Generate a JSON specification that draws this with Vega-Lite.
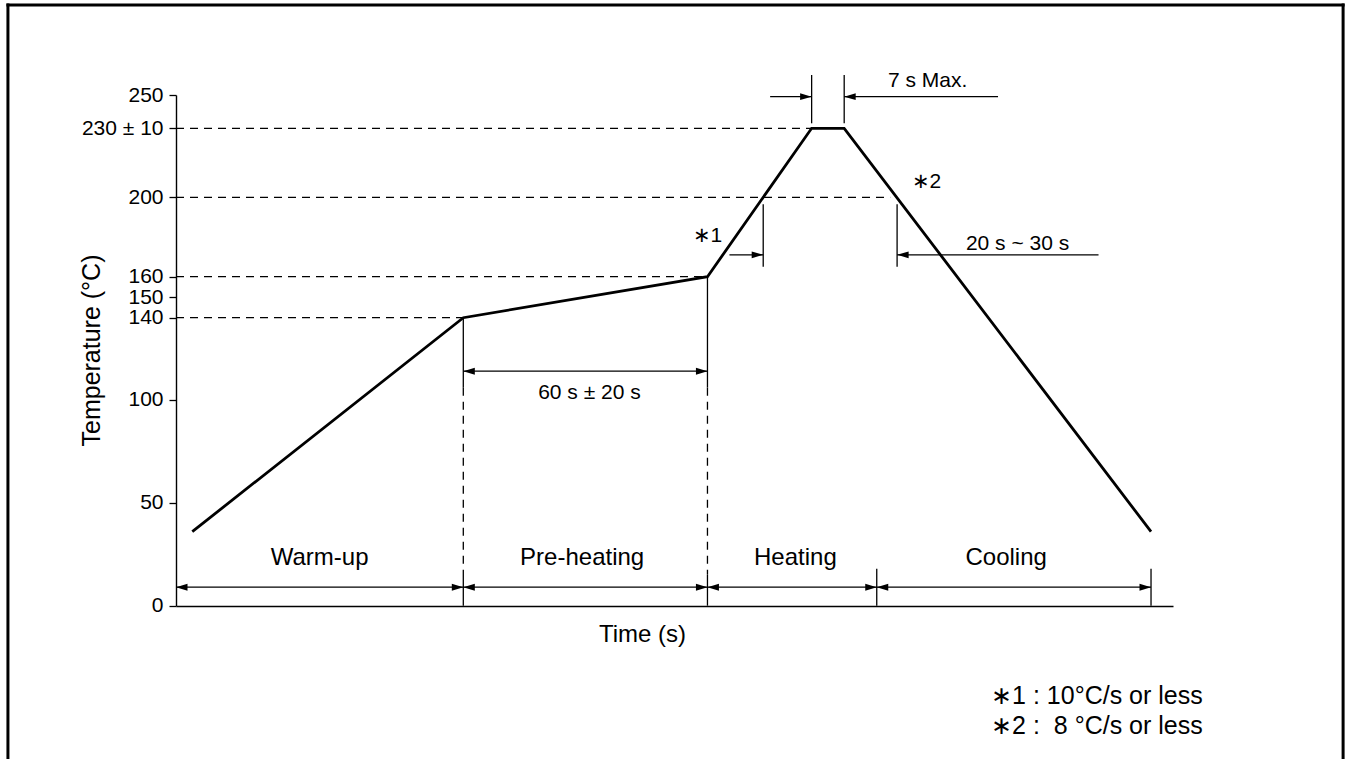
{
  "$schema": "https://vega.github.io/schema/vega-lite/v6.json",
  "width": 997,
  "height": 511,
  "autosize": {"type": "none"},
  "padding": {"left": 176, "top": 95, "right": 173, "bottom": 153},
  "background": "white",
  "config": {
    "view": {"stroke": null},
    "font": "Liberation Sans",
    "text": {"font": "Liberation Sans"}
  },
  "datasets": {
    "profile": [
      {"t": 4.0, "temp": 36},
      {"t": 70.6, "temp": 140},
      {"t": 130.6, "temp": 160},
      {"t": 156.2, "temp": 230},
      {"t": 164.2, "temp": 230},
      {"t": 239.6, "temp": 36}
    ],
    "dashed": [
      {"t": 0, "t2": 156.2, "temp": 230, "temp2": 230},
      {"t": 0, "t2": 175.5, "temp": 200, "temp2": 200},
      {"t": 0, "t2": 130.6, "temp": 160, "temp2": 160},
      {"t": 0, "t2": 70.6, "temp": 140, "temp2": 140},
      {"t": 70.6, "t2": 70.6, "temp": 106, "temp2": 14},
      {"t": 130.6, "t2": 130.6, "temp": 106, "temp2": 15}
    ],
    "solid": [
      {"t": 70.6, "t2": 70.6, "temp": 140, "temp2": 106},
      {"t": 130.6, "t2": 130.6, "temp": 160, "temp2": 106},
      {"t": 70.6, "t2": 70.6, "temp": 14, "temp2": 0},
      {"t": 130.6, "t2": 130.6, "temp": 15, "temp2": 0},
      {"t": 172.2, "t2": 172.2, "temp": 18, "temp2": 0},
      {"t": 239.6, "t2": 239.6, "temp": 18, "temp2": 0},
      {"t": 144.3, "t2": 144.3, "temp": 196.5, "temp2": 165},
      {"t": 177.2, "t2": 177.2, "temp": 196.5, "temp2": 165},
      {"t": 156.2, "t2": 156.2, "temp": 262, "temp2": 233},
      {"t": 164.2, "t2": 164.2, "temp": 262, "temp2": 233},
      {"t": 0, "t2": 70.6, "temp": 9, "temp2": 9},
      {"t": 70.6, "t2": 130.6, "temp": 9, "temp2": 9},
      {"t": 130.6, "t2": 172.2, "temp": 9, "temp2": 9},
      {"t": 172.2, "t2": 239.6, "temp": 9, "temp2": 9},
      {"t": 70.6, "t2": 130.6, "temp": 114, "temp2": 114},
      {"t": 136.0, "t2": 144.3, "temp": 171, "temp2": 171},
      {"t": 177.2, "t2": 226.7, "temp": 171, "temp2": 171},
      {"t": 146.0, "t2": 156.2, "temp": 249, "temp2": 249},
      {"t": 164.2, "t2": 202.0, "temp": 249, "temp2": 249}
    ],
    "frame": [
      {"t": -41.3, "t2": -41.3, "temp": 304, "temp2": -80},
      {"t": 286.8, "t2": 286.8, "temp": 304, "temp2": -80},
      {"t": -41.3, "t2": 286.8, "temp": 304, "temp2": 304}
    ],
    "heads": [
      {"t": 0, "temp": 9, "dir": "left"},
      {"t": 70.6, "temp": 9, "dir": "right"},
      {"t": 70.6, "temp": 9, "dir": "left"},
      {"t": 130.6, "temp": 9, "dir": "right"},
      {"t": 130.6, "temp": 9, "dir": "left"},
      {"t": 172.2, "temp": 9, "dir": "right"},
      {"t": 172.2, "temp": 9, "dir": "left"},
      {"t": 239.6, "temp": 9, "dir": "right"},
      {"t": 70.6, "temp": 114, "dir": "left"},
      {"t": 130.6, "temp": 114, "dir": "right"},
      {"t": 144.3, "temp": 171, "dir": "right"},
      {"t": 177.2, "temp": 171, "dir": "left"},
      {"t": 156.2, "temp": 249, "dir": "right"},
      {"t": 164.2, "temp": 249, "dir": "left"}
    ],
    "phases": [
      {"t": 35.3, "temp": 20, "label": "Warm-up"},
      {"t": 99.8, "temp": 20, "label": "Pre-heating"},
      {"t": 152.2, "temp": 20, "label": "Heating"},
      {"t": 204.0, "temp": 20, "label": "Cooling"}
    ],
    "dims": [
      {"t": 101.6, "temp": 100.5, "label": "60 s ± 20 s"},
      {"t": 184.7, "temp": 255, "label": "7 s Max."},
      {"t": 206.8, "temp": 173.5, "label": "20 s ~ 30 s"},
      {"t": 130.6, "temp": 177.6, "label": "∗1"},
      {"t": 184.4, "temp": 204.2, "label": "∗2"}
    ],
    "notes": [
      {"t": 200.3, "temp": -47.8, "label": "∗1 : 10°C/s or less"},
      {"t": 200.3, "temp": -62.4, "label": "∗2 :\u00a0 8 °C/s or less"}
    ]
  },
  "encoding": {
    "x": {
      "field": "t",
      "type": "quantitative",
      "scale": {"domain": [0, 245], "nice": false, "zero": false},
      "axis": {
        "ticks": false,
        "labels": false,
        "grid": false,
        "domainColor": "black",
        "domainWidth": 1.4,
        "title": "Time (s)",
        "titleFont": "Liberation Sans",
        "titleFontSize": 24,
        "titleFontWeight": "normal",
        "titleColor": "black",
        "titleX": 466,
        "titleY": 35,
        "titleAlign": "center",
        "titleBaseline": "alphabetic"
      }
    },
    "y": {
      "field": "temp",
      "type": "quantitative",
      "scale": {
        "domain": [0, 140, 160, 200, 230, 250],
        "range": [510.7, 222.7, 181.7, 102.3, 33.3, 0],
        "nice": false,
        "zero": false
      },
      "axis": {
        "values": [0, 50, 100, 140, 150, 160, 200, 230, 250],
        "labelExpr": "datum.value == 230 ? '230 ± 10' : datum.label",
        "labelOverlap": false,
        "labelFlush": false,
        "labelBound": false,
        "labelFont": "Liberation Sans",
        "labelFontSize": 21,
        "labelColor": "black",
        "labelPadding": 6,
        "tickSize": 7,
        "tickColor": "black",
        "tickWidth": 1.3,
        "grid": false,
        "domainColor": "black",
        "domainWidth": 1.4,
        "title": "Temperature (°C)",
        "titleFont": "Liberation Sans",
        "titleFontSize": 25,
        "titleFontWeight": "normal",
        "titleColor": "black",
        "titleX": -77,
        "titleY": 255,
        "titleAlign": "center",
        "titleBaseline": "alphabetic"
      }
    }
  },
  "layer": [
    {
      "data": {"name": "frame"},
      "mark": {"type": "rule", "color": "black", "strokeWidth": 3, "strokeCap": "square"},
      "encoding": {"x2": {"field": "t2"}, "y2": {"field": "temp2"}}
    },
    {
      "data": {"name": "dashed"},
      "mark": {"type": "rule", "color": "black", "strokeWidth": 1.3, "strokeDash": [8, 6]},
      "encoding": {"x2": {"field": "t2"}, "y2": {"field": "temp2"}}
    },
    {
      "data": {"name": "solid"},
      "mark": {"type": "rule", "color": "black", "strokeWidth": 1.3},
      "encoding": {"x2": {"field": "t2"}, "y2": {"field": "temp2"}}
    },
    {
      "data": {"name": "profile"},
      "mark": {"type": "line", "color": "black", "strokeWidth": 2.8, "strokeJoin": "miter"},
      "encoding": {}
    },
    {
      "data": {"name": "heads"},
      "mark": {"type": "point", "filled": true, "size": 529, "color": "black", "opacity": 1, "strokeWidth": 0},
      "encoding": {
        "shape": {
          "field": "dir",
          "type": "nominal",
          "scale": {"domain": ["left", "right"], "range": ["M0,0L1,-0.3L1,0.3Z", "M0,0L-1,-0.3L-1,0.3Z"]},
          "legend": null
        }
      }
    },
    {
      "data": {"name": "phases"},
      "mark": {"type": "text", "font": "Liberation Sans", "fontSize": 24, "color": "black", "align": "center", "baseline": "alphabetic"},
      "encoding": {"text": {"field": "label"}}
    },
    {
      "data": {"name": "dims"},
      "mark": {"type": "text", "font": "Liberation Sans", "fontSize": 21, "color": "black", "align": "center", "baseline": "alphabetic"},
      "encoding": {"text": {"field": "label"}}
    },
    {
      "data": {"name": "notes"},
      "mark": {"type": "text", "font": "Liberation Sans", "fontSize": 25, "color": "black", "align": "left", "baseline": "alphabetic"},
      "encoding": {"text": {"field": "label"}}
    }
  ]
}
